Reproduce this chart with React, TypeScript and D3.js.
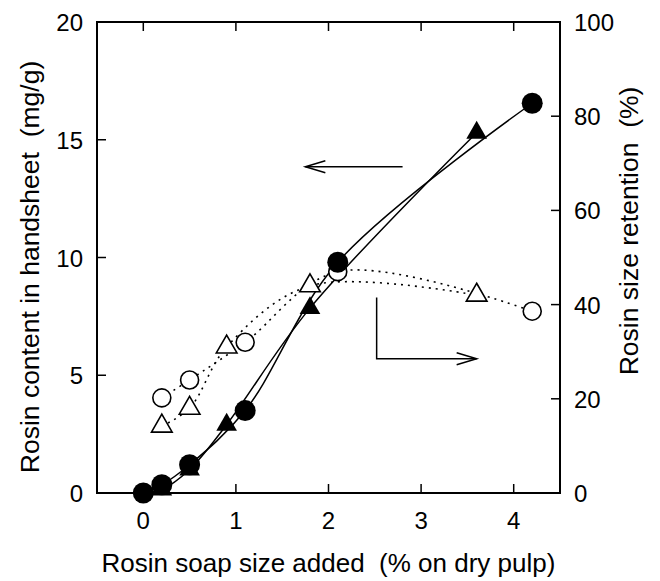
import React from "react";
import * as d3 from "d3";

const circleX = [0, 0.2, 0.5, 1.1, 2.1, 4.2];
const circleContent = [0, 0.35, 1.2, 3.5, 9.8, 16.55];
const triangleX = [0.2, 0.5, 0.9, 1.8, 3.6];
const triangleContent = [0.15, 1.0, 2.9, 7.85, 15.3];
const circleRetentionX = [0.2, 0.5, 1.1, 2.1, 4.2];
const circleRetention = [20.2, 24, 32, 47, 38.6];
const triangleRetention = [14.2, 18, 31, 44, 42];

const xTicks = [0, 1, 2, 3, 4];
const leftTicks = [0, 5, 10, 15, 20];
const rightTicks = [0, 20, 40, 60, 80, 100];

const width = 660,
  height = 581;
const margin = { left: 97, right: 100, top: 22, bottom: 88 };
const font = "'Liberation Sans', Arial, Helvetica, sans-serif";

export default function App() {
  const x = d3.scaleLinear().domain([-0.5, 4.5]).range([margin.left, width - margin.right]);
  const yL = d3.scaleLinear().domain([0, 20]).range([height - margin.bottom, margin.top]);
  const yR = d3.scaleLinear().domain([0, 100]).range([height - margin.bottom, margin.top]);

  const x0 = x.range()[0], x1 = x.range()[1];
  const y0 = yL.range()[0], y1 = yL.range()[1];

  const curve = d3.curveCatmullRom.alpha(0.5);
  const lineL = d3.line<[number, number]>().x((d) => x(d[0])).y((d) => yL(d[1])).curve(curve);
  const lineR = d3.line<[number, number]>().x((d) => x(d[0])).y((d) => yR(d[1])).curve(curve);

  const circlesL = circleX.map((v, i) => [v, circleContent[i]] as [number, number]);
  const trianglesL = triangleX.map((v, i) => [v, triangleContent[i]] as [number, number]);
  const circlesR = circleRetentionX.map((v, i) => [v, circleRetention[i]] as [number, number]);
  const trianglesR = triangleX.map((v, i) => [v, triangleRetention[i]] as [number, number]);

  const tri = d3.symbol().type(d3.symbolTriangle).size(185)();
  const tl = 9;
  const pre = { whiteSpace: "pre" as const };

  return (
    <svg width={width} height={height} style={{ position: "absolute", left: 0, top: 0 }}>
      <rect width={width} height={height} fill="white" />
      {/* dotted retention curves */}
      <path d={lineR(trianglesR) || ""} fill="none" stroke="black" strokeWidth={1.6} strokeDasharray="2,5" />
      <path d={lineR(circlesR) || ""} fill="none" stroke="black" strokeWidth={1.6} strokeDasharray="2,5" />
      {/* solid content curves */}
      <path d={lineL([[0, 0], ...trianglesL]) || ""} fill="none" stroke="black" strokeWidth={1.5} />
      <path d={lineL(circlesL) || ""} fill="none" stroke="black" strokeWidth={1.5} />

      {trianglesR.map((d, i) => (
        <path key={"tr" + i} d={tri || ""} transform={`translate(${x(d[0])},${yR(d[1])})`} fill="white" stroke="black" strokeWidth={1.6} />
      ))}
      {circlesR.map((d, i) => (
        <circle key={"cr" + i} cx={x(d[0])} cy={yR(d[1])} r={9} fill="white" stroke="black" strokeWidth={1.6} />
      ))}
      {trianglesL.map((d, i) => (
        <path key={"tl" + i} d={tri || ""} transform={`translate(${x(d[0])},${yL(d[1])})`} fill="black" />
      ))}
      {circlesL.map((d, i) => (
        <circle key={"cl" + i} cx={x(d[0])} cy={yL(d[1])} r={10.5} fill="black" />
      ))}

      {/* frame */}
      <rect x={x0} y={y1} width={x1 - x0} height={y0 - y1} fill="none" stroke="black" strokeWidth={2} />

      {xTicks.map((t) => (
        <g key={"x" + t}>
          <line x1={x(t)} x2={x(t)} y1={y0} y2={y0 - tl} stroke="black" strokeWidth={1.5} />
          <line x1={x(t)} x2={x(t)} y1={y1} y2={y1 + tl} stroke="black" strokeWidth={1.5} />
          <text x={x(t)} y={y0 + 36} textAnchor="middle" fontFamily={font} fontSize={24}>{t}</text>
        </g>
      ))}
      {leftTicks.map((t) => (
        <g key={"l" + t}>
          <line x1={x0} x2={x0 + tl} y1={yL(t)} y2={yL(t)} stroke="black" strokeWidth={1.5} />
          <text x={x0 - 14} y={yL(t) + 9} textAnchor="end" fontFamily={font} fontSize={24}>{t}</text>
        </g>
      ))}
      {rightTicks.map((t) => (
        <g key={"r" + t}>
          <line x1={x1} x2={x1 - tl} y1={yR(t)} y2={yR(t)} stroke="black" strokeWidth={1.5} />
          <text x={x1 + 14} y={yR(t) + 9} textAnchor="start" fontFamily={font} fontSize={24}>{t}</text>
        </g>
      ))}

      {/* arrows */}
      <g stroke="black" strokeWidth={1.5} fill="none">
        <line x1={x(2.8)} x2={x(1.75)} y1={yL(13.85)} y2={yL(13.85)} />
        <polyline points={`${x(1.75) + 20},${yL(13.85) - 6} ${x(1.75)},${yL(13.85)} ${x(1.75) + 20},${yL(13.85) + 6}`} />
        <polyline points={`${x(2.52)},${yR(41.5)} ${x(2.52)},${yR(28.5)} ${x(3.6)},${yR(28.5)}`} />
        <polyline points={`${x(3.6) - 20},${yR(28.5) - 6} ${x(3.6)},${yR(28.5)} ${x(3.6) - 20},${yR(28.5) + 6}`} />
      </g>

      <text x={(x0 + x1) / 2} y={572} textAnchor="middle" fontFamily={font} fontSize={26} xmlSpace="preserve" style={pre}>
        {"Rosin soap size added  (% on dry pulp)"}
      </text>
      <text transform={`translate(39,267) rotate(-90)`} textAnchor="middle" fontFamily={font} fontSize={26.5} xmlSpace="preserve" style={pre}>
        {"Rosin content in handsheet  (mg/g)"}
      </text>
      <text transform={`translate(638,231) rotate(-90)`} textAnchor="middle" fontFamily={font} fontSize={26.5} xmlSpace="preserve" style={pre}>
        {"Rosin size retention  (%)"}
      </text>
    </svg>
  );
}
